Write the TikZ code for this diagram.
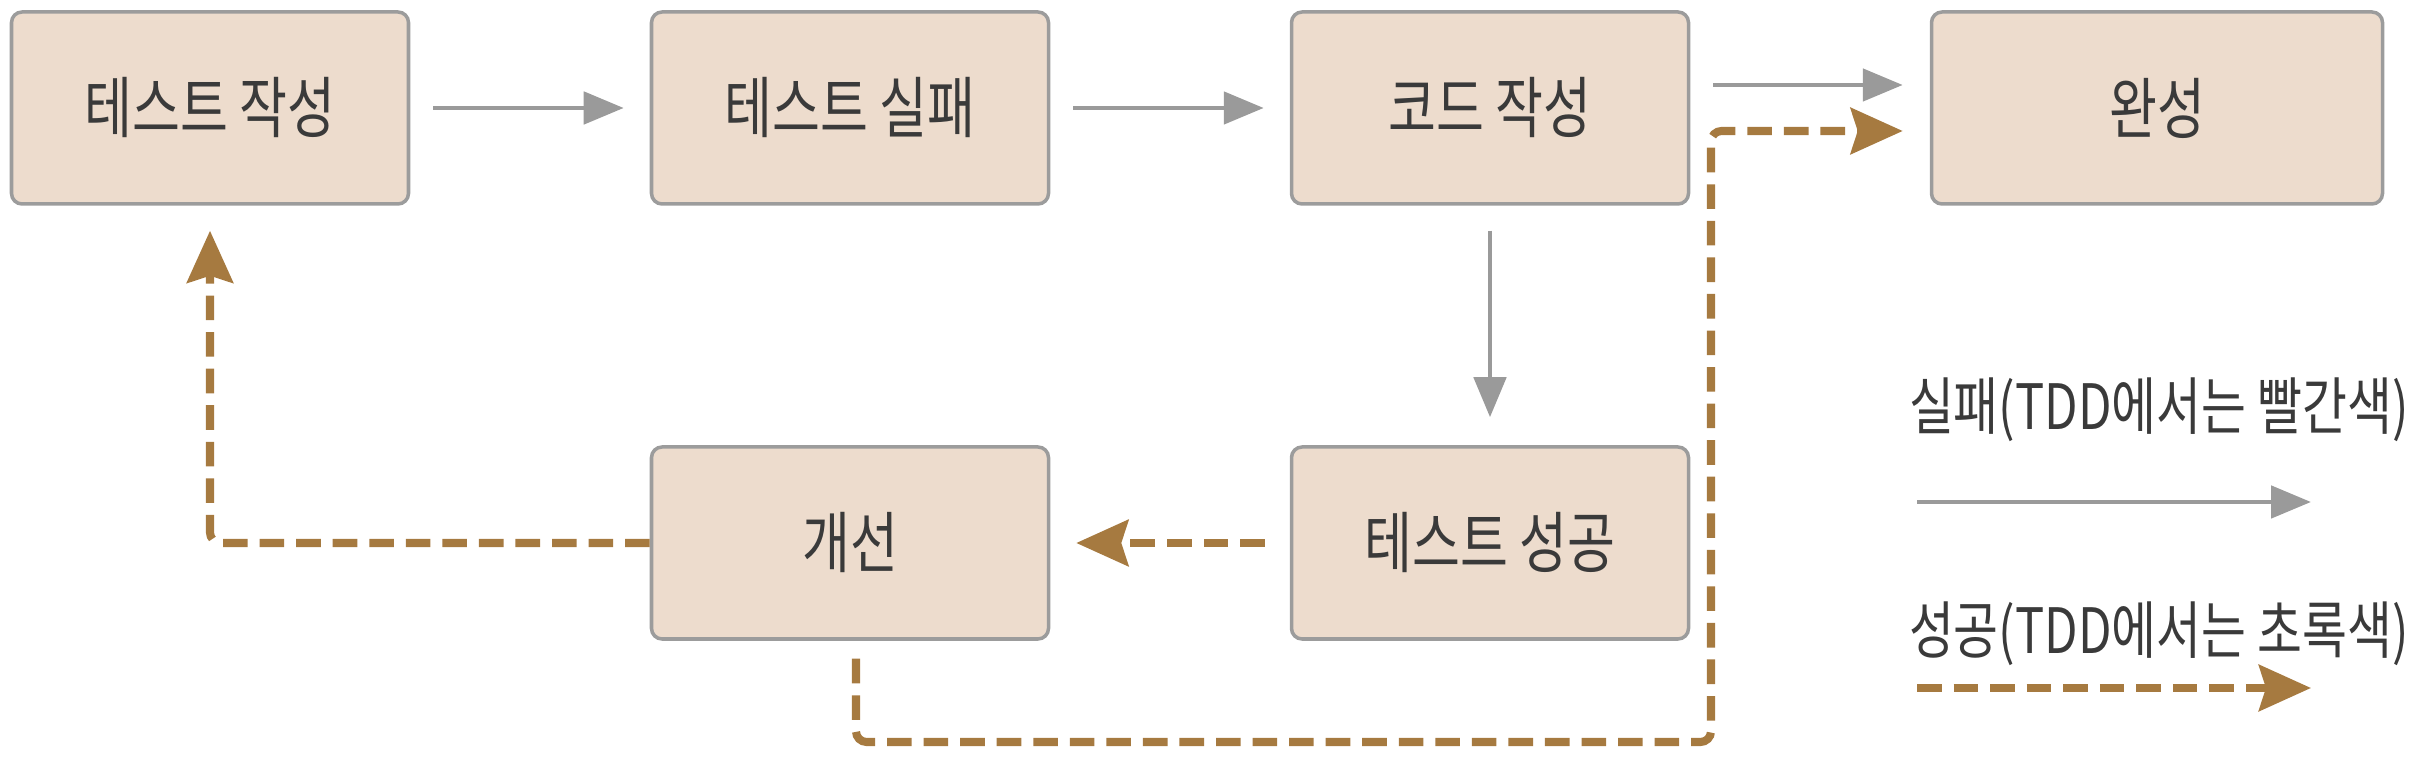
\documentclass[tikz,border=0pt]{standalone}
\usepackage{fontspec}
\setmainfont{Noto Sans CJK KR}[FakeStretch=0.78]
\usepackage{tikz}
\usetikzlibrary{arrows.meta,positioning,calc}

\definecolor{boxfill}{HTML}{EDDCCD}
\definecolor{boxline}{HTML}{9C9C9C}
\definecolor{failgray}{HTML}{9A9A9A}
\definecolor{okbrown}{HTML}{A67A40}
\definecolor{txt}{HTML}{3A3A3A}

\begin{document}
\begin{tikzpicture}[auto, semithick, node distance=6.4cm,
  font=\fontsize{19}{23}\selectfont, text=txt]
\tikzstyle{box}=[draw=boxline, fill=boxfill, line width=1pt, rounded corners=3pt,
  minimum width=3.97cm, minimum height=1.92cm, inner sep=0pt]
\tikzstyle{legend}=[anchor=west, inner sep=0pt, font=\fontsize{17.8}{21}\selectfont]
\tikzstyle{fail}=[draw=failgray, line width=1.4pt, -{Triangle[length=0.4cm,width=0.32cm]}]
\tikzstyle{ok}=[draw=okbrown, line width=2.3pt, dash pattern=on 7pt off 3.4pt,
  rounded corners=3pt, -{Stealth[length=0.52cm,width=0.46cm,inset=0.07cm]}]
\useasboundingbox (0,0) rectangle (24.24,-7.66);
% top row
\node[box]    (W) at (2.10,-1.08)      {테스트 작성};
\node[box]    (F)[right of=W]          {테스트 실패};
\node[box]    (C)[right of=F]          {코드 작성};
\node[box, minimum width=4.51cm] (D)[right of=C, xshift=0.27cm] {완성};
% bottom row
\node[box]    (S)[below of=C, node distance=4.35cm] {테스트 성공};
\node[box]    (R)[below of=F, node distance=4.35cm] {개선};
% turning point of the long path
\coordinate (T) at (17.11,-7.42);
\path
(W)   edge[fail, shorten <=0.23cm, shorten >=0.26cm]  (F)
(F)   edge[fail, shorten <=0.23cm, shorten >=0.26cm]  (C)
(C)   edge[fail, shorten <=0.25cm, shorten >=0.28cm]  (S)
([yshift=0.23cm]C.east) edge[fail, shorten <=0.23cm, shorten >=0.27cm] ([yshift=0.23cm]D.west)
(S)   edge[ok, shorten <=0.25cm, shorten >=0.26cm]    (R);
\draw[ok, shorten >=0.25cm] (R.west) -| (W.south);
\draw[ok, shorten <=0.18cm, shorten >=0.27cm] ([xshift=0.06cm]R.south) |- (T) |- ([yshift=-0.23cm]D.west);
% legend
\node[legend] (L1) at (19.08,-4.10) {실패(TDD에서는 빨간색)};
\node[legend] (L2) at (19.08,-6.34) {성공(TDD에서는 초록색)};
\coordinate (a1) at (19.17,-5.02);
\coordinate (b1) at (23.11,-5.02);
\coordinate (a2) at (19.17,-6.88);
\coordinate (b2) at (23.11,-6.88);
\draw[fail] (a1) -- (b1);
\draw[ok] (a2) -- (b2);
\end{tikzpicture}
\end{document}
